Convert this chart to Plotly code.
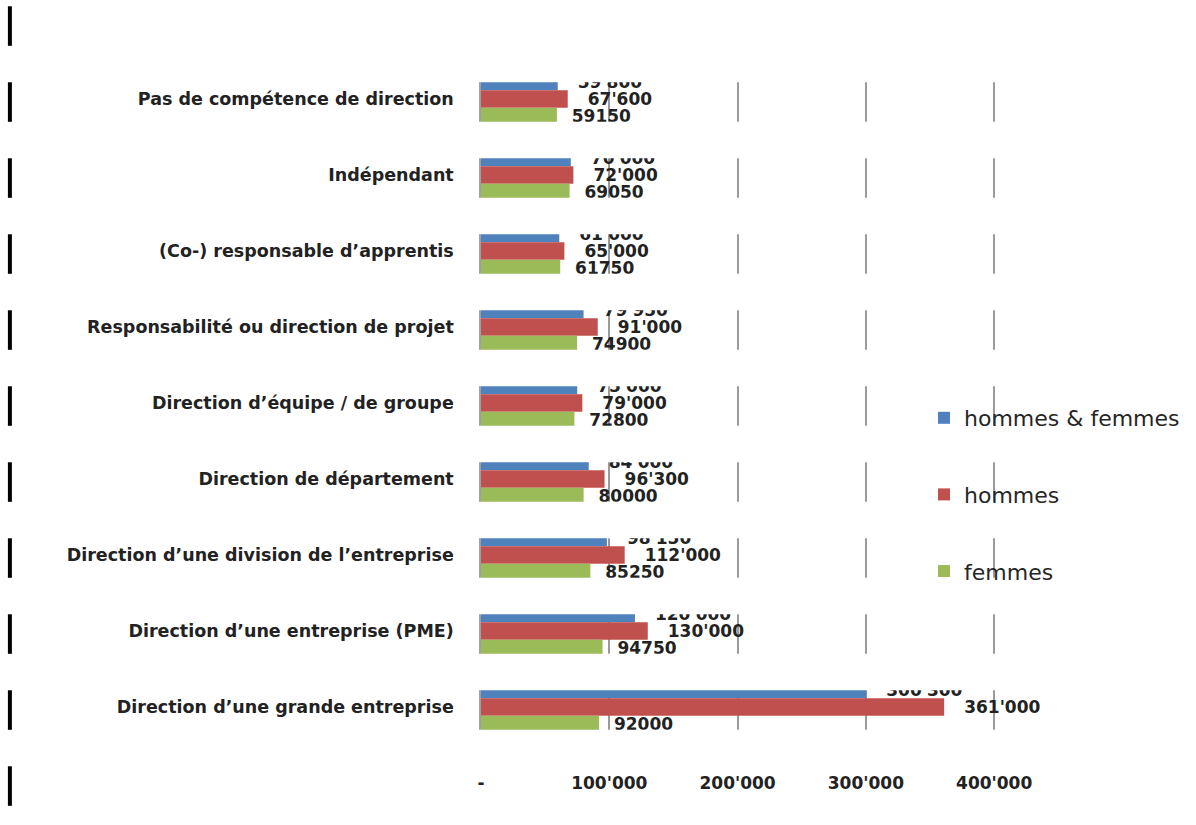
import plotly.graph_objects as go

# Salary by management level (CHF)
categories = [
    "Pas de compétence de direction",
    "Indépendant",
    "(Co-) responsable d’apprentis",
    "Responsabilité ou direction de projet",
    "Direction d’équipe / de groupe",
    "Direction de département",
    "Direction d’une division de l’entreprise",
    "Direction d’une entreprise (PME)",
    "Direction d’une grande entreprise",
]
hommes_femmes = [59800, 70000, 61000, 79950, 75000, 84000, 98150, 120000, 300300]
hommes = [67600, 72000, 65000, 91000, 79000, 96300, 112000, 130000, 361000]
femmes = [59150, 69050, 61750, 74900, 72800, 80000, 85250, 94750, 92000]
x_ticks = [0, 100000, 200000, 300000, 400000]


def swiss(v):
    return f"{v:,}".replace(",", "'")


W, H = 1196, 825
ML, MR, MT, MB = 481, 188, 61, 80
PW, PH = W - ML - MR, H - MT - MB
N = len(categories)
BAND = PH / N

FONT = "DejaVu Sans"
TXT = "#222222"

series = [
    ("hommes & femmes", hommes_femmes, "#4F81BD", ["\u2003" + swiss(v) for v in hommes_femmes]),
    ("hommes", hommes, "#C0504D", ["\u2003" + swiss(v) for v in hommes]),
    ("femmes", femmes, "#9BBB59", ["\u2002\u2009" + str(v) for v in femmes]),
]

fig = go.Figure()
for name, vals, color, labels in series:
    fig.add_trace(go.Bar(
        name=name, legendgroup=name, orientation="h",
        x=vals, y=categories, marker=dict(color=color, line=dict(width=0)),
        text=labels, textposition="outside", constraintext="none", cliponaxis=False,
        textfont=dict(family=FONT, size=17, weight="bold", color=TXT),
        hoverinfo="skip",
    ))


def py(px):
    return 1 - (px - MT) / PH


def px_x(px):
    return (px - ML) / PW


# Visible horizontal windows around each band; rows between them are blanked
WIN_TOP, WIN_BOT = 0.22, 0.30
windows = []
for k in range(-1, N + 1):
    c = MT + (k + 0.5) * BAND
    windows.append((c - WIN_TOP * BAND, c + WIN_BOT * BAND))

shapes = []
edges = [0] + [v for w in windows for v in w] + [H]
for i in range(0, len(edges), 2):
    top, bot = edges[i], edges[i + 1]
    if bot > top:
        shapes.append(dict(type="rect", xref="paper", yref="paper", layer="above",
                           x0=px_x(0), x1=px_x(W), y0=py(bot), y1=py(top),
                           fillcolor="white", line=dict(width=0)))
for top, bot in windows:
    shapes.append(dict(type="rect", xref="paper", yref="paper", layer="above",
                       x0=px_x(7), x1=px_x(11), y0=py(bot), y1=py(top),
                       fillcolor="black", line=dict(width=0)))

fig.update_layout(
    width=W, height=H,
    margin=dict(l=ML, r=MR, t=MT, b=MB, pad=0),
    paper_bgcolor="white", plot_bgcolor="white",
    barmode="group", bargap=0.317, bargroupgap=0,
    showlegend=True,
    legend=dict(
        x=px_x(924), y=py(397), xanchor="left", yanchor="top",
        traceorder="grouped", tracegroupgap=45,
        font=dict(family=FONT, size=22, color="#262626"),
        bgcolor="rgba(0,0,0,0)",
    ),
    xaxis=dict(
        range=[0, 410000], tickvals=x_ticks,
        ticktext=["-" if v == 0 else swiss(v) for v in x_ticks],
        showgrid=True, gridcolor="#9a9a9a", gridwidth=1.5,
        zeroline=False, showline=False, ticks="",
        ticklabelstandoff=26,
        tickfont=dict(family=FONT, size=17, weight="bold", color=TXT),
    ),
    yaxis=dict(
        type="category", autorange="reversed",
        showgrid=False, zeroline=False, showline=True,
        linecolor="#a0a0a0", linewidth=1.5, ticks="",
        ticklabelstandoff=22,
        tickfont=dict(family=FONT, size=17.5, weight="bold", color=TXT),
    ),
    shapes=shapes,
)

fig.write_html("out.html")
